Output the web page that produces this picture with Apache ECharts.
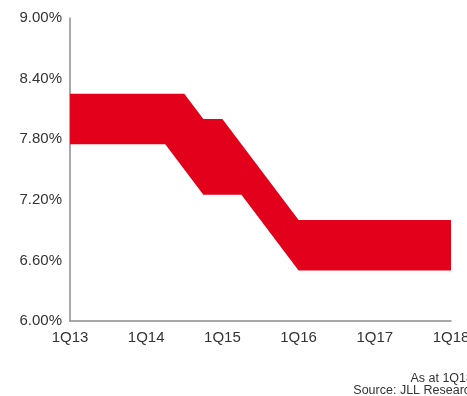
<!DOCTYPE html>
<html>
<head>
<meta charset="utf-8">
<script src="https://cdn.jsdelivr.net/npm/echarts@6/dist/echarts.min.js"></script>
<style>
  html, body { margin: 0; padding: 0; background: #fff; }
  #main { width: 467px; height: 396px; }
</style>
</head>
<body>
<div id="main"></div>
<script>
// 季度分類
const quarters = [
  '1Q13', '2Q13', '3Q13', '4Q13',
  '1Q14', '2Q14', '3Q14', '4Q14',
  '1Q15', '2Q15', '3Q15', '4Q15',
  '1Q16', '2Q16', '3Q16', '4Q16',
  '1Q17', '2Q17', '3Q17', '4Q17',
  '1Q18'
];
// 收益率區間下限 / 上限 (%)
const lowYield = [
  7.75, 7.75, 7.75, 7.75,
  7.75, 7.75, 7.50, 7.25,
  7.25, 7.25, 7.00, 6.75,
  6.50, 6.50, 6.50, 6.50,
  6.50, 6.50, 6.50, 6.50,
  6.50
];
const highYield = [
  8.25, 8.25, 8.25, 8.25,
  8.25, 8.25, 8.25, 8.00,
  8.00, 7.75, 7.50, 7.25,
  7.00, 7.00, 7.00, 7.00,
  7.00, 7.00, 7.00, 7.00,
  7.00
];
const yTicks = [6.0, 6.6, 7.2, 7.8, 8.4, 9.0];

const chartDom = document.getElementById('main');
const myChart = echarts.init(chartDom);

const bandWidth = highYield.map((v, i) => +(v - lowYield[i]).toFixed(2));

const option = {
  animation: false,
  grid: { left: 70, right: 16, top: 18, bottom: 75, outerBoundsMode: 'none', containLabel: false },
  xAxis: {
    type: 'category',
    data: quarters,
    boundaryGap: false,
    axisLine: { lineStyle: { color: '#8c8c8c', width: 1.5 } },
    axisTick: { show: false },
    axisLabel: {
      interval: 3,
      margin: 9,
      color: '#333',
      fontFamily: 'Liberation Sans, Arial',
      fontSize: 15
    },
    splitLine: { show: false }
  },
  yAxis: {
    type: 'value',
    min: yTicks[0],
    max: yTicks[yTicks.length - 1],
    interval: 0.6,
    axisLine: { show: true, lineStyle: { color: '#8c8c8c', width: 1.5 } },
    axisTick: { show: false },
    splitLine: { show: false },
    axisLabel: {
      margin: 8,
      color: '#333',
      fontFamily: 'Liberation Sans, Arial',
      fontSize: 15,
      formatter: v => v.toFixed(2) + '%'
    }
  },
  series: [
    {
      type: 'line',
      data: lowYield,
      stack: 'band',
      symbol: 'none',
      lineStyle: { opacity: 0 },
      areaStyle: { opacity: 0 }
    },
    {
      type: 'line',
      data: bandWidth,
      stack: 'band',
      symbol: 'none',
      lineStyle: { opacity: 0 },
      areaStyle: { color: '#e2001a', opacity: 1 }
    }
  ],
  graphic: [
    {
      type: 'text',
      right: -6,
      top: 372,
      style: {
        text: 'As at 1Q18',
        fill: '#333',
        font: '12.5px Liberation Sans, Arial',
        textAlign: 'right'
      }
    },
    {
      type: 'text',
      right: -10,
      top: 384,
      style: {
        text: 'Source: JLL Research',
        fill: '#333',
        font: '12.5px Liberation Sans, Arial',
        textAlign: 'right'
      }
    }
  ]
};

option && myChart.setOption(option);
</script>
</body>
</html>
